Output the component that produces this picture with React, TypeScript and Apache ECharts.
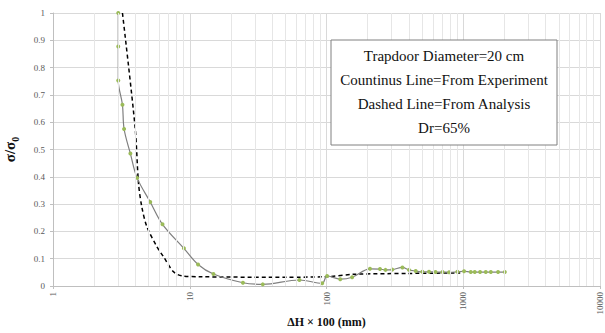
import React, { useEffect, useRef } from "react";
import * as echarts from "echarts";

// Experiment: settlement ΔH×100 (mm) vs normalised stress σ/σ0
const expX = [3.0, 3.0, 3.0, 3.22, 3.31, 3.68, 4.12, 5.14, 6.32, 9.06, 11.5, 14.9, 24.5, 34.2, 63.4, 93, 101, 126, 154, 208, 246, 270, 303, 359, 401, 449, 502, 562, 627, 705, 788, 906, 1014, 1135, 1214, 1327, 1461, 1590, 1798, 2014];
const expY = [1.0, 0.877, 0.753, 0.664, 0.575, 0.485, 0.396, 0.308, 0.226, 0.138, 0.079, 0.044, 0.012, 0.006, 0.022, 0.01, 0.037, 0.025, 0.032, 0.063, 0.062, 0.059, 0.06, 0.068, 0.059, 0.055, 0.052, 0.052, 0.051, 0.051, 0.05, 0.052, 0.054, 0.051, 0.051, 0.051, 0.051, 0.051, 0.051, 0.051];

// Analysis curve
const anaX = [3.22, 3.99, 4.22, 4.46, 4.86, 5.75, 6.43, 7.61, 8.77, 11.9, 40, 100, 160, 400, 950];
const anaY = [1.0, 0.578, 0.376, 0.29, 0.217, 0.144, 0.107, 0.052, 0.037, 0.034, 0.032, 0.034, 0.043, 0.046, 0.048];

const boxLines = [
  "Trapdoor Diameter=20 cm",
  "Countinus Line=From Experiment",
  "Dashed Line=From Analysis",
  "Dr=65%",
];

const FONT = "'Liberation Serif', 'Times New Roman', serif";

export default function App() {
  const ref = useRef<HTMLDivElement>(null);

  useEffect(() => {
    if (!ref.current) return;
    const chart = echarts.init(ref.current, undefined, { renderer: "svg" });

    // minor log grid lines (2..9 within each decade)
    const minor: { xAxis: number }[] = [];
    for (let d = 1; d < 10000; d *= 10) {
      for (let k = 2; k <= 9; k++) minor.push({ xAxis: k * d });
    }

    const cx = 444;
    const lineTop = 48;
    const lineStep = 24;

    chart.setOption({
      animation: false,
      backgroundColor: "#ffffff",
      grid: { left: 53, right: 5, top: 13, bottom: 47, containLabel: false, outerBoundsMode: "none" },
      xAxis: {
        type: "log",
        logBase: 10,
        min: 1,
        max: 10000,
        name: "ΔH × 100 (mm)",
        nameLocation: "middle",
        nameGap: 30,
        nameMoveOverlap: false,
        nameTextStyle: { fontFamily: FONT, fontWeight: "bold", fontSize: 12, color: "#111" },
        axisLine: { lineStyle: { color: "#bfbfbf", width: 1 } },
        axisTick: { show: true, length: 3, lineStyle: { color: "#bfbfbf" } },
        axisLabel: {
          rotate: 90,
          fontFamily: FONT,
          fontSize: 9,
          color: "#595959",
          margin: 6,
          formatter: (v: number) => String(Math.round(v)),
        },
        splitLine: { show: true, lineStyle: { color: "#d9d9d9", width: 1 } },
      },
      yAxis: {
        type: "value",
        min: 0,
        max: 1,
        interval: 0.1,
        name: "{a|σ/σ}{b|0}",
        nameLocation: "middle",
        nameGap: 33,
        nameMoveOverlap: false,
        nameRotate: 90,
        nameTextStyle: {
          rich: {
            a: { fontFamily: FONT, fontWeight: "bold", fontSize: 15, color: "#111", lineHeight: 20 },
            b: { fontFamily: FONT, fontWeight: "bold", fontSize: 10, color: "#111", verticalAlign: "bottom", lineHeight: 12 },
          },
        },
        axisLine: { show: true, lineStyle: { color: "#bfbfbf", width: 1 } },
        axisTick: { show: true, length: 3, lineStyle: { color: "#bfbfbf" } },
        axisLabel: { fontFamily: FONT, fontSize: 9, color: "#595959", margin: 8 },
        splitLine: { show: true, lineStyle: { color: "#d9d9d9", width: 1 } },
      },
      series: [
        {
          type: "line",
          data: [],
          silent: true,
          z: 1,
          markLine: {
            silent: true,
            symbol: "none",
            label: { show: false },
            lineStyle: { color: "#e6e6e6", width: 1, type: "solid" },
            data: minor,
          },
        },
        {
          type: "line",
          name: "Analysis",
          data: anaX.map((x, i) => [x, anaY[i]]),
          showSymbol: false,
          smooth: 0.3,
          z: 3,
          lineStyle: { color: "#000000", width: 1.5, type: [4, 3] },
        },
        {
          type: "line",
          name: "Experiment",
          data: expX.map((x, i) => [x, expY[i]]),
          smooth: 0.35,
          symbol: "circle",
          symbolSize: 4,
          z: 4,
          itemStyle: { color: "#9bbb59" },
          lineStyle: { color: "#7f7f7f", width: 1.2 },
        },
      ],
      graphic: [
        {
          type: "rect",
          shape: { x: 331, y: 40, width: 226, height: 105 },
          style: { fill: "#ffffff", stroke: "#808080", lineWidth: 1 },
          z: 10,
        },
        ...boxLines.map((t, i) => ({
          type: "text",
          x: cx,
          y: lineTop + i * lineStep,
          z: 11,
          style: {
            text: t,
            x: 0,
            y: 0,
            align: "center",
            verticalAlign: "top",
            fontFamily: FONT,
            fontSize: 15,
            fill: "#111111",
          },
        })),
      ],
    });

    return () => chart.dispose();
  }, []);

  return (
    <div
      ref={ref}
      style={{ position: "absolute", left: 0, top: 0, width: 605, height: 333 }}
    />
  );
}
